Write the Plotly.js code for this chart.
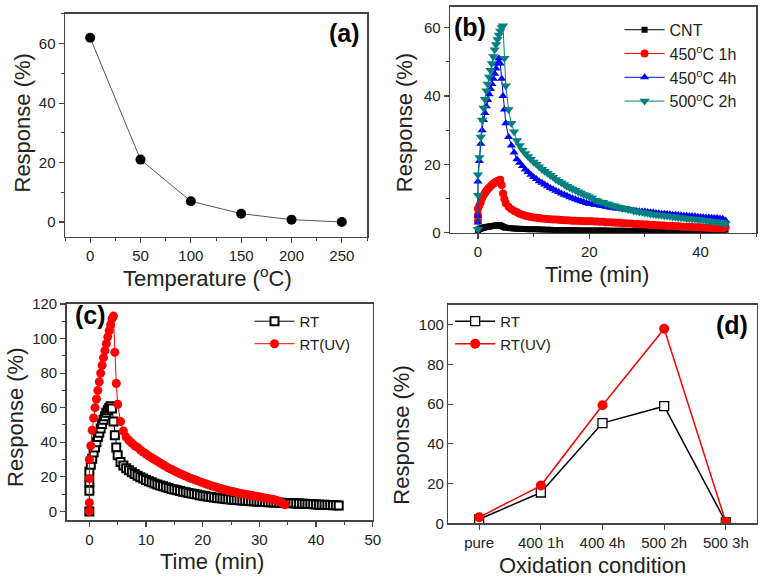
<!DOCTYPE html>
<html>
<head>
<meta charset="utf-8">
<script src="https://cdn.plot.ly/plotly-3.0.1.min.js"></script>
<style>html,body{margin:0;padding:0;background:#fff;}#chart{width:763px;height:582px;}</style>
</head>
<body>
<div id="chart"></div>
<script>
// ---------- Panel (a) ----------
var tempA = [0, 50, 100, 150, 200, 250];
var respA = [62, 21, 7, 2.8, 0.8, 0];

// ---------- Panel (b) ----------
var timeB = [0,0,0,0.25,0.5,0.75,1,1.25,1.5,1.75,2,2.25,2.5,2.75,3,3.25,3.5,3.75,4,
  4.25,4.5,4.75,5,
  5.5,6,6.5,7,7.5,8,8.5,9,9.5,10,10.5,11,11.5,12,12.5,13,13.5,14,14.5,15,15.5,16,16.5,17,17.5,18,18.5,19,19.5,20,
  20.5,21,21.5,22,22.5,23,23.5,24,24.5,25,25.5,26,26.5,27,27.5,28,28.5,29,29.5,30,
  30.5,31,31.5,32,32.5,33,33.5,34,34.5,35,35.5,36,36.5,37,37.5,38,38.5,39,39.5,40,
  40.5,41,41.5,42,42.5,43,43.5,44,44.5];
var cntB = [0.3,0.6,0.9,
  1.0,1.2,1.4,1.5,1.6,1.7,1.8,1.8,1.9,2.0,2.0,2.1,2.1,2.2,2.2,2.2,
  2.0,1.8,1.6,1.5,
  1.4,1.3,1.25,1.2,1.15,1.1,1.1,1.05,1.0,1.0,1.0,0.95,0.95,0.9,0.9,0.9,0.85,0.85,0.85,0.8,0.8,0.8,0.8,0.75,0.75,0.75,0.7,0.7,0.7,0.7,
  0.7,0.7,0.68,0.65,0.65,0.65,0.62,0.6,0.6,0.6,
  0.6,0.6,0.58,0.55,0.55,0.55,0.55,0.55,0.52,0.5,
  0.5,0.5,0.5,0.5,0.5,0.5,0.48,0.45,0.45,0.45,
  0.45,0.45,0.42,0.4,0.4,0.4,0.4,0.4,0.4,0.4,
  0.38,0.35,0.35,0.35,0.35,0.35,0.32,0.3,0.8];
var ox450_1h = [3.5,5.2,7.0,
  8.0,9.0,10.2,11.0,11.6,12.2,12.7,13.2,13.6,14.0,14.3,14.6,14.9,15.1,15.3,15.5,
  14.0,11.5,9.8,8.6,
  7.6,6.9,6.4,6.0,5.6,5.3,5.0,4.8,4.6,4.5,4.4,4.3,4.2,4.1,4.0,3.95,3.9,3.85,3.8,3.75,3.7,3.65,3.6,3.55,3.5,3.5,3.45,3.4,3.4,3.35,
  3.4,3.3,3.3,3.2,3.2,3.1,3.1,3.0,3.0,2.9,
  2.9,2.8,2.8,2.7,2.7,2.6,2.6,2.5,2.5,2.4,
  2.4,2.3,2.3,2.2,2.2,2.1,2.1,2.0,2.0,1.95,
  1.9,1.9,1.85,1.8,1.75,1.7,1.7,1.65,1.6,1.6,
  1.55,1.5,1.45,1.4,1.35,1.3,1.3,1.25,1.6];
var ox450_4h = [3.0,5.0,15.0,
  21,26,30,33,35,37,38.8,40.5,42,43.5,45,46.5,48,49.5,51,49.5,
  45,40,36,32,
  28,25.5,23.5,21.5,20.5,19.5,18.5,17.8,17.0,16.3,15.7,15.1,14.6,14.1,13.6,13.1,12.7,12.3,11.9,11.5,11.1,10.8,10.4,10.1,9.8,9.5,9.2,9.0,8.7,8.5,
  8.4,8.2,8.1,7.9,7.8,7.6,7.5,7.3,7.2,7.1,
  7.0,6.9,6.8,6.7,6.6,6.5,6.4,6.3,6.25,6.2,
  6.1,6.0,5.9,5.8,5.7,5.6,5.55,5.5,5.4,5.3,
  5.25,5.2,5.1,5.0,4.95,4.9,4.85,4.8,4.7,4.6,
  4.55,4.5,4.45,4.4,4.35,4.3,4.2,4.1,3.6];
var ox500_2h = [1.0,11,17,
  22,28,33,36.5,39,41.5,43.5,45.5,47.5,49.5,51.5,53.5,55,56.5,57.8,59,
  60,60.5,51,43,
  36,32,29.5,27,25.5,24.2,23.2,22.3,21.5,20.7,20.0,19.3,18.6,18.0,17.4,16.8,16.2,15.6,15.1,14.6,14.1,13.6,13.2,12.8,12.4,12.0,11.6,11.2,10.9,10.5,
  10.2,9.5,9.4,9.0,8.9,8.5,8.4,8.0,7.9,7.6,
  7.5,7.2,7.1,6.8,6.7,6.4,6.3,6.1,6.0,5.8,
  5.7,5.5,5.4,5.3,5.2,5.1,5.0,4.9,4.8,4.7,
  4.6,4.5,4.4,4.3,4.2,4.1,4.0,4.0,3.9,3.8,
  3.7,3.6,3.5,3.4,3.3,3.2,3.1,3.0,2.6];

// ---------- Panel (c) ----------
var timeRT = [0,0,0,0,0.25,0.5,0.75,1,1.25,1.5,1.75,2,2.25,2.5,2.75,3,3.25,3.5,3.75,4,
  4.25,4.5,4.75,5,
  5.5,6,6.5,7,7.5,8,8.5,9,9.5,10,10.5,11,11.5,12,12.5,13,13.5,14,14.5,15,15.5,16,16.5,17,17.5,18,18.5,19,19.5,20,
  20.5,21,21.5,22,22.5,23,23.5,24,24.5,25,25.5,26,26.5,27,27.5,28,28.5,29,29.5,30,
  30.5,31,31.5,32,32.5,33,33.5,34,34.5,35,35.5,36,36.5,37,37.5,38,38.5,39,39.5,40,
  40.5,41,41.5,42,42.5,43,43.5,44];
var respRT = [0,12,17,23,
  27,30.5,34,37,40,43,45.5,48,50.5,53,55,57,58.5,59.8,60.8,59.5,
  52,44,37,32.5,
  28.5,26.5,25,23.8,22.6,21.6,20.6,19.8,19,18.2,
  17.5,16.8,16.2,15.6,15.0,14.5,14.0,13.5,13.0,12.6,
  12.2,11.8,11.4,11.0,10.6,10.3,10.0,9.7,9.4,9.1,
  8.8,8.5,8.3,8.0,7.8,7.6,7.4,7.2,7.0,6.9,
  6.7,6.6,6.4,6.3,6.2,6.0,5.9,5.8,5.7,5.6,
  5.5,5.4,5.3,5.3,5.2,5.1,5.0,5.0,4.9,4.8,
  4.7,4.7,4.6,4.5,4.4,4.4,4.3,4.2,4.1,4.0,
  3.9,3.9,3.8,3.7,3.7,3.6,3.5,3.4];
var timeUV = [0,0,0,0,0.25,0.5,0.75,1,1.25,1.5,1.75,2,2.25,2.5,2.75,3,3.25,3.5,3.75,4,
  4.25,4.5,4.75,5,
  5.5,6,6.5,7,7.5,8,8.5,9,9.5,10,10.5,11,11.5,12,12.5,13,13.5,14,14.5,15,15.5,16,16.5,17,17.5,18,18.5,19,19.5,20,
  20.5,21,21.5,22,22.5,23,23.5,24,24.5,25,25.5,26,26.5,27,27.5,28,28.5,29,29.5,30,
  30.5,31,31.5,32,32.5,33,33.5,34,34.5];
var respUV = [0,5,19,30,
  38,47,54,60,65,70,75,80,84.5,89,93,97,101,104.5,108,111.5,
  113,92,74,62,
  52,46.5,43,41,39.5,38,37,35.5,34.3,33.2,
  32,31,30,29,28,27,26,25,24.2,23.4,
  22.6,21.8,21.1,20.4,19.7,19.0,18.4,17.8,17.2,16.6,
  16.0,15.4,14.9,14.4,13.9,13.4,12.9,12.5,12.1,11.7,
  11.3,10.9,10.5,10.2,9.9,9.6,9.3,9.0,8.7,8.4,
  8.1,7.8,7.5,7.2,6.9,6.4,5.8,5.0,3.8];

// ---------- Panel (d) ----------
var conditions = ['pure', '400 1h', '400 4h', '500 2h', '500 3h'];
var respD_RT = [2, 15.5, 50.5, 59, 0.5];
var respD_UV = [3, 19, 59.5, 98, 0.5];

var FONT = 'Liberation Sans, Arial, sans-serif';
var INK = '#222';
var FRAME = '#444';

function axis(domain, anchor, range, dtick, minorDtick, tickdir) {
  var a = {
    domain: domain, anchor: anchor, range: range,
    showline: true, mirror: true, linecolor: FRAME, linewidth: 1.5,
    ticks: tickdir || 'outside', ticklen: 5, tickwidth: 1.2, tickcolor: FRAME,
    showgrid: false, zeroline: false, automargin: false,
    tickfont: {family: FONT, size: 15, color: INK}
  };
  if (dtick) a.dtick = dtick;
  if (minorDtick) {
    a.minor = {dtick: minorDtick, ticks: tickdir || 'outside', ticklen: 3, tickwidth: 1, tickcolor: FRAME, showgrid: false};
  }
  return a;
}

var traces = [
  {x: tempA, y: respA, xaxis: 'x', yaxis: 'y', mode: 'lines+markers', showlegend: false,
   line: {color: '#555', width: 1}, marker: {symbol: 'circle', size: 10, color: '#000'}},

  {x: timeB, y: cntB, xaxis: 'x2', yaxis: 'y2', mode: 'lines+markers', name: 'CNT', legend: 'legend',
   line: {color: '#000', width: 1}, marker: {symbol: 'square', size: 6, color: '#000'}},
  {x: timeB, y: ox450_1h, xaxis: 'x2', yaxis: 'y2', mode: 'lines+markers', name: '450<sup>o</sup>C 1h', legend: 'legend',
   line: {color: '#ff0000', width: 1}, marker: {symbol: 'circle', size: 8, color: '#ff0000'}},
  {x: timeB, y: ox450_4h, xaxis: 'x2', yaxis: 'y2', mode: 'lines+markers', name: '450<sup>o</sup>C 4h', legend: 'legend',
   line: {color: '#0000ff', width: 1}, marker: {symbol: 'triangle-up', size: 8, color: '#0000ff'}},
  {x: timeB, y: ox500_2h, xaxis: 'x2', yaxis: 'y2', mode: 'lines+markers', name: '500<sup>o</sup>C 2h', legend: 'legend',
   line: {color: '#008080', width: 1}, marker: {symbol: 'triangle-down', size: 9, color: '#008080'}},

  {x: timeRT, y: respRT, xaxis: 'x3', yaxis: 'y3', mode: 'lines+markers', name: 'RT', legend: 'legend2',
   line: {color: '#000', width: 1}, marker: {symbol: 'square', size: 8, color: '#fff', line: {color: '#000', width: 2}}},
  {x: timeUV, y: respUV, xaxis: 'x3', yaxis: 'y3', mode: 'lines+markers', name: 'RT(UV)', legend: 'legend2',
   line: {color: '#ff0000', width: 1}, marker: {symbol: 'circle', size: 9, color: '#ff0000'}},

  {x: conditions, y: respD_RT, xaxis: 'x4', yaxis: 'y4', mode: 'lines+markers', name: 'RT', legend: 'legend3',
   line: {color: '#000', width: 1.5}, marker: {symbol: 'square', size: 9, color: '#fff', line: {color: '#000', width: 1.3}}},
  {x: conditions, y: respD_UV, xaxis: 'x4', yaxis: 'y4', mode: 'lines+markers', name: 'RT(UV)', legend: 'legend3',
   line: {color: '#ff0000', width: 1.5}, marker: {symbol: 'circle', size: 10, color: '#ff0000'}}
];

var legendBase = {bgcolor: 'rgba(0,0,0,0)', borderwidth: 0, xanchor: 'left', yanchor: 'top', itemwidth: 40,
  tracegroupgap: 0};

function titleAnn(text, x, y, rotate) {
  return {text: text, xref: 'paper', yref: 'paper', x: x, y: y, xanchor: 'center', yanchor: 'middle',
    showarrow: false, textangle: rotate ? -90 : 0, font: {family: FONT, size: 22, color: INK}};
}
function panelAnn(text, x, y) {
  return {text: '<b>' + text + '</b>', xref: 'paper', yref: 'paper', x: x, y: y,
    xanchor: 'center', yanchor: 'middle', showarrow: false,
    font: {family: FONT, size: 25, color: '#000'}};
}

var layout = {
  width: 763, height: 582,
  margin: {l: 0, r: 0, t: 0, b: 0},
  paper_bgcolor: '#fff', plot_bgcolor: '#fff',
  font: {family: FONT, color: INK},
  xaxis: axis([0.0852, 0.481], 'y', [-25, 275], 50, 25),
  yaxis: axis([0.593, 0.976], 'x', [-5, 70], 20, 10),
  xaxis2: axis([0.590, 0.991], 'y2', [-5, 50], 20, 10),
  yaxis2: axis([0.600, 0.988], 'x2', [0, 66], 20, 10),
  xaxis3: axis([0.0874, 0.4885], 'y3', [-4, 50], 10, 5),
  yaxis3: axis([0.1065, 0.4777], 'x3', [-5, 120], 20, 10),
  xaxis4: Object.assign(axis([0.5876, 0.9917], 'y4', [-0.5, 4.5], null, null), {type: 'category'}),
  yaxis4: axis([0.1009, 0.476], 'x4', [0, 110], 20, null, 'inside'),
  legend: Object.assign({}, legendBase, {x: 0.812, y: 0.978, font: {family: FONT, size: 16, color: INK}}),
  legend2: Object.assign({}, legendBase, {x: 0.327, y: 0.476, font: {family: FONT, size: 15, color: INK}}),
  legend3: Object.assign({}, legendBase, {x: 0.59, y: 0.476, font: {family: FONT, size: 15, color: INK}}),
  annotations: [
    panelAnn('(a)', 0.452, 0.943),
    panelAnn('(b)', 0.616, 0.954),
    panelAnn('(c)', 0.119, 0.459),
    panelAnn('(d)', 0.959, 0.442),
    titleAnn('Temperature (<sup>o</sup>C)', 0.272, 0.524, false),
    titleAnn('Response (%)', 0.029, 0.788, true),
    titleAnn('Time (min)', 0.783, 0.5275, false),
    titleAnn('Response (%)', 0.530, 0.789, true),
    titleAnn('Time (min)', 0.278, 0.035, false),
    titleAnn('Response (%)', 0.021, 0.282, true),
    titleAnn('Oxidation condition', 0.7766, 0.0275, false),
    titleAnn('Response (%)', 0.526, 0.252, true)
  ]
};

Plotly.newPlot('chart', traces, layout, {displayModeBar: false, staticPlot: true});
</script>
</body>
</html>
